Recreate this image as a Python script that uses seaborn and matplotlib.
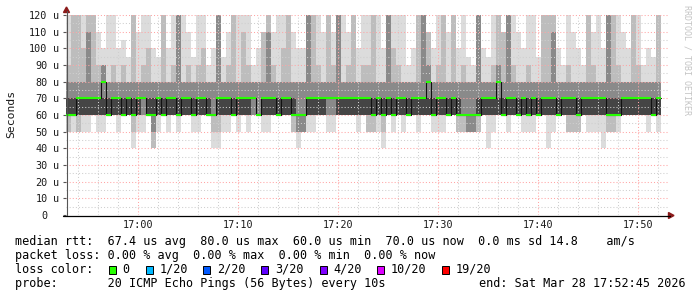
import numpy as np
import pandas as pd
import matplotlib
matplotlib.use("Agg")
import matplotlib.pyplot as plt
import seaborn as sns
from matplotlib.patches import Rectangle, Polygon
from matplotlib.lines import Line2D
import matplotlib.transforms as mtransforms

sns.set_theme(style="white")
plt.rcParams['font.family'] = ['DejaVu Sans Mono', 'DejaVu Sans']

# ---------------- data (30 s bins, microseconds) ----------------
start_time = "2026-03-28 16:52:45"
n_bins = 119

median_rtt = [60, 60, 70, 70, 70, 70, 70, 80, 60, 70, 70, 60, 70, 60, 70, 70, 60, 60, 70, 60,
              70, 70, 60, 70, 70, 60, 70, 70, 60, 60, 70, 70, 70, 60, 70, 70, 70, 70, 60, 70,
              70, 70, 60, 70, 70, 60, 60, 60, 70, 70, 70, 70, 70, 70, 70, 70, 70, 70, 70, 70,
              70, 60, 70, 60, 70, 60, 70, 70, 60, 70, 70, 70, 80, 60, 70, 70, 60, 70, 60, 60,
              60, 60, 60, 70, 70, 70, 80, 60, 70, 70, 60, 70, 60, 70, 60, 70, 70, 70, 60, 70,
              70, 70, 60, 70, 70, 70, 70, 70, 60, 60, 60, 70, 70, 70, 70, 70, 70, 60, 70]

smoke_min = [50, 50, 50, 50, 50, 60, 50, 50, 60, 60, 50, 60, 60, 40, 50, 50, 60, 40, 50, 60,
             50, 60, 50, 60, 60, 50, 50, 60, 60, 40, 40, 50, 50, 60, 50, 60, 50, 60, 60, 50,
             50, 60, 60, 60, 60, 50, 40, 50, 50, 50, 60, 60, 50, 50, 60, 60, 60, 60, 50, 60,
             50, 50, 50, 40, 60, 50, 60, 50, 60, 60, 50, 60, 60, 50, 50, 50, 60, 60, 50, 50,
             50, 50, 50, 60, 40, 50, 60, 60, 50, 60, 60, 50, 50, 50, 60, 60, 40, 50, 60, 60,
             50, 50, 50, 60, 50, 50, 50, 40, 50, 50, 50, 60, 60, 60, 60, 60, 50, 60, 50]
smoke_max = [120, 120, 120, 120, 120, 120, 110, 100, 120, 120, 100, 105, 95, 120, 110, 120, 120, 100, 95, 120,
             100, 120, 120, 120, 110, 95, 120, 120, 90, 100, 120, 95, 110, 120, 120, 120, 120, 90, 100, 110,
             120, 110, 120, 120, 120, 110, 100, 100, 120, 120, 120, 110, 120, 110, 120, 120, 110, 120, 100, 120,
             120, 120, 120, 100, 120, 120, 120, 120, 90, 100, 120, 120, 110, 100, 120, 120, 110, 120, 100, 120,
             95, 90, 120, 100, 95, 120, 120, 110, 120, 120, 110, 100, 120, 120, 95, 120, 120, 120, 100, 90,
             120, 110, 100, 90, 120, 110, 120, 100, 120, 120, 120, 110, 100, 120, 120, 90, 100, 95, 120]
band2_lo = [50, 60, 50, 60, 60, 60, 60, 60, 60, 60, 60, 60, 60, 50, 60, 60, 60, 40, 60, 60,
            60, 60, 60, 60, 60, 60, 60, 60, 60, 50, 50, 60, 60, 60, 60, 60, 60, 60, 60, 60,
            60, 60, 60, 60, 60, 50, 50, 50, 60, 60, 60, 60, 60, 60, 60, 60, 60, 60, 60, 60,
            50, 50, 60, 50, 60, 60, 60, 60, 60, 60, 60, 60, 60, 60, 60, 60, 60, 60, 50, 50,
            50, 50, 50, 60, 60, 60, 60, 60, 60, 60, 60, 60, 60, 60, 60, 60, 60, 60, 60, 60,
            50, 50, 50, 60, 60, 60, 60, 60, 50, 50, 60, 60, 60, 60, 60, 60, 60, 60, 60]
band2_hi = [90, 120, 120, 100, 120, 120, 90, 90, 80, 90, 80, 90, 80, 120, 80, 90, 100, 80, 80, 120,
            80, 90, 120, 80, 90, 80, 90, 100, 80, 80, 120, 80, 90, 120, 80, 110, 90, 80, 80, 110,
            120, 90, 80, 100, 120, 80, 80, 80, 120, 120, 90, 80, 120, 90, 120, 80, 90, 120, 80, 90,
            90, 120, 80, 80, 120, 100, 90, 80, 80, 80, 120, 120, 110, 80, 90, 120, 80, 120, 80, 90,
            80, 80, 120, 80, 80, 90, 120, 110, 120, 90, 80, 80, 90, 80, 80, 120, 120, 120, 80, 80,
            90, 80, 80, 80, 120, 90, 80, 80, 120, 120, 90, 80, 80, 120, 90, 80, 80, 80, 120]
band3_lo = [60, 60, 60, 60, 60, 60, 60, 60, 60, 60, 60, 60, 60, 60, 60, 60, 60, 50, 60, 60,
            60, 60, 60, 60, 60, 60, 60, 60, 60, 60, 60, 60, 60, 60, 60, 60, 60, 60, 60, 60,
            60, 60, 60, 60, 60, 60, 50, 50, 60, 60, 60, 60, 60, 60, 60, 60, 60, 60, 60, 60,
            60, 60, 60, 60, 60, 60, 60, 60, 60, 60, 60, 60, 60, 60, 60, 60, 60, 60, 60, 60,
            50, 50, 60, 60, 60, 60, 60, 60, 60, 60, 60, 60, 60, 60, 60, 60, 60, 60, 60, 60,
            60, 60, 60, 60, 60, 60, 60, 60, 60, 60, 60, 60, 60, 60, 60, 60, 60, 60, 60]
band3_hi = [80, 80, 80, 80, 110, 80, 80, 90, 80, 80, 80, 80, 80, 80, 80, 80, 80, 80, 80, 80,
            80, 80, 120, 80, 80, 80, 80, 80, 80, 80, 120, 80, 80, 80, 80, 80, 80, 80, 80, 80,
            110, 80, 80, 80, 80, 80, 80, 80, 120, 80, 80, 80, 80, 80, 120, 80, 80, 80, 80, 80,
            80, 80, 80, 80, 120, 80, 80, 80, 80, 80, 80, 120, 90, 80, 80, 80, 80, 80, 80, 80,
            80, 80, 120, 80, 80, 80, 90, 80, 120, 80, 80, 80, 80, 80, 80, 80, 80, 110, 80, 80,
            80, 80, 80, 80, 80, 80, 80, 80, 120, 80, 80, 80, 80, 80, 80, 80, 80, 80, 80]
core_lo = [60] * n_bins
core_hi = [70, 70, 70, 70, 70, 70, 70, 70, 70, 70, 70, 70, 70, 70, 70, 60, 70, 70, 70, 70,
           70, 70, 70, 70, 70, 70, 70, 70, 70, 60, 70, 70, 70, 70, 70, 70, 70, 60, 60, 70,
           70, 70, 70, 70, 70, 70, 60, 60, 70, 70, 70, 70, 60, 60, 70, 70, 70, 70, 70, 70,
           70, 70, 70, 70, 70, 70, 70, 70, 70, 70, 70, 70, 70, 70, 70, 70, 70, 70, 70, 60,
           60, 60, 70, 70, 70, 70, 70, 70, 70, 70, 70, 70, 70, 70, 70, 70, 70, 70, 70, 70,
           70, 70, 70, 70, 70, 70, 70, 70, 70, 70, 70, 70, 70, 70, 70, 70, 70, 70, 70]

y_ticks = [0, 10, 20, 30, 40, 50, 60, 70, 80, 90, 100, 110, 120]
x_tick_minutes = [60, 70, 80, 90, 100, 110]       # minutes after 16:00
x_tick_labels = ["17:00", "17:10", "17:20", "17:30", "17:40", "17:50"]

stat_line1 = "median rtt:  67.4 us avg  80.0 us max  60.0 us min  70.0 us now  0.0 ms sd 14.8    am/s"
stat_line2 = "packet loss: 0.00 % avg  0.00 % max  0.00 % min  0.00 % now"
loss_labels = ["0", "1/20", "2/20", "3/20", "4/20", "10/20", "19/20"]
loss_colors = ["#26ff00", "#00b8ff", "#0059ff", "#5e00ff", "#7e00ff", "#dd00ff", "#ff0000"]
probe_text = "probe:       20 ICMP Echo Pings (56 Bytes) every 10s"
end_text = "end: Sat Mar 28 17:52:45 2026"

# ---------------- figure ----------------
W, H = 697, 297
fig = plt.figure(figsize=(W / 100, H / 100), dpi=100)
fig.patch.set_facecolor("white")


def fx(px):
    return px / W


def fy(py):
    return 1 - py / H


ax = fig.add_axes([fx(66), fy(215), (668 - 66) / W, 200 / H])
ax.set_facecolor("white")

times = pd.date_range(start_time, periods=n_bins, freq="30s")
xmin = np.array((times.hour - 16) * 60 + times.minute + times.second / 60.0, dtype=float)
bw = 0.5

df = pd.DataFrame({
    "t": xmin, "median": median_rtt,
    "smin": smoke_min, "smax": smoke_max,
    "b2lo": band2_lo, "b2hi": band2_hi,
    "b3lo": band3_lo, "b3hi": band3_hi,
    "clo": core_lo, "chi": core_hi,
})

layers = [("smin", "smax", "#dcdcdc"), ("b2lo", "b2hi", "#bdbdbd"),
          ("b3lo", "b3hi", "#8a8a8a"), ("clo", "chi", "#454545")]
for lo, hi, col in layers:
    ax.bar(df["t"], df[hi] - df[lo], bottom=df[lo], width=bw, align="edge",
           color=col, linewidth=0, antialiased=False, zorder=1)

# median line: dark step connections + green level segments
step_df = pd.DataFrame({"t": list(df["t"]) + [df["t"].iloc[-1] + bw],
                        "median": list(df["median"]) + [df["median"].iloc[-1]]})
sns.lineplot(data=step_df, x="t", y="median", drawstyle="steps-post", color="#111111",
             linewidth=0.8, ax=ax, zorder=3, estimator=None, sort=False)
ax.hlines(df["median"], df["t"], df["t"] + bw, colors=loss_colors[0], linewidth=1.5, zorder=4)

ax.set_xlim(52.75, 112.95)
ax.set_ylim(0, 120)
ax.set_xlabel("")
ax.set_ylabel("")

ax.set_xticks(x_tick_minutes)
ax.set_xticklabels(x_tick_labels)
ax.set_xticks([m for m in range(54, 113, 2) if m % 10 != 0], minor=True)
ax.set_yticks(y_ticks)
ax.set_yticklabels([str(v) for v in y_ticks])
ax.set_yticks([v for v in range(5, 120, 10)], minor=True)

ax.set_axisbelow(False)
ax.grid(which="major", color="#ffa5a5", linestyle=(0, (1, 2)), linewidth=0.75)
ax.grid(which="minor", color="#cfcfcf", linestyle=(0, (1, 2)), linewidth=0.75)

for s in ax.spines.values():
    s.set_visible(False)

ax.tick_params(axis="x", which="both", length=0, pad=3.5, labelsize=7.3, labelcolor="#1a1a1a")
ax.tick_params(axis="y", which="major", length=2, width=0.8, color="#555555", direction="out",
               pad=11.2, labelsize=7.3, labelcolor="#1a1a1a", left=True)
ax.tick_params(axis="y", which="minor", length=0)

# unit suffix on y tick labels
trans = mtransforms.blended_transform_factory(fig.transFigure, ax.transData)
for v in y_ticks:
    if v != 0:
        fig.text(fx(52.5), 0, "u", transform=trans, fontsize=7.3, color="#1a1a1a",
                 ha="left", va="center_baseline").set_y(v)

# axes lines and arrows
fig.add_artist(Line2D([fx(66.5), fx(66.5)], [fy(215), fy(11)], color="#555555", lw=0.8))
fig.add_artist(Line2D([fx(63), fx(670)], [fy(215.5), fy(215.5)], color="#000000", lw=0.9))
fig.add_artist(Polygon([[fx(63.5), fy(12.5)], [fx(69.5), fy(12.5)], [fx(66.5), fy(7)]],
                       closed=True, color="#8b1a1a", transform=fig.transFigure))
fig.add_artist(Polygon([[fx(668.5), fy(212.5)], [fx(668.5), fy(218.5)], [fx(674), fy(215.5)]],
                       closed=True, color="#8b1a1a", transform=fig.transFigure))

fig.text(fx(11), fy(114), "Seconds", rotation=90, ha="center", va="center", fontsize=8.2,
         color="#1a1a1a")
fig.text(fx(687), fy(60), "RRDTOOL / TOBI OETIKER", rotation=270, ha="center", va="center",
         fontsize=6, color="#c4c4c4")

# legend / statistics
leg_fs = 8.5
fig.text(fx(15), fy(241.7), stat_line1, ha="left", va="center", fontsize=leg_fs, color="black")
fig.text(fx(15), fy(255.2), stat_line2, ha="left", va="center", fontsize=leg_fs, color="black")
fig.text(fx(15), fy(269.3), "loss color:", ha="left", va="center", fontsize=leg_fs, color="black")
sq_x = [109, 145.7, 203.3, 261.3, 320, 377.3, 442.3]
for sx, lab, col in zip(sq_x, loss_labels, loss_colors):
    fig.add_artist(Rectangle((fx(sx), fy(273.5)), 7 / W, 8 / H, transform=fig.transFigure,
                             facecolor=col, edgecolor="black", linewidth=0.7))
    fig.text(fx(sx + 13.5), fy(269.3), lab, ha="left", va="center", fontsize=leg_fs, color="black")
fig.text(fx(15), fy(283.4), probe_text, ha="left", va="center", fontsize=leg_fs, color="black")
fig.text(fx(479), fy(283.4), end_text, ha="left", va="center", fontsize=leg_fs, color="black")

fig.savefig("out.png", dpi=100, facecolor="white")
